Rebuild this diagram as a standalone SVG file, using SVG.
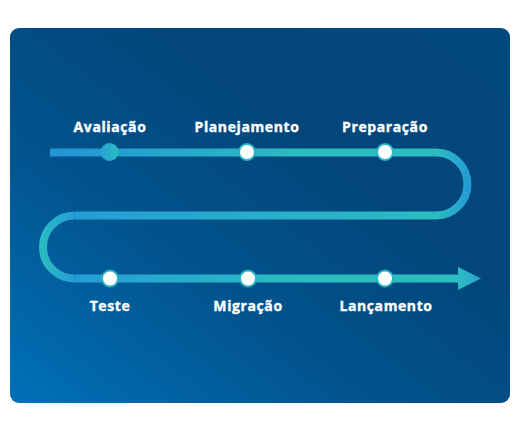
<svg xmlns="http://www.w3.org/2000/svg" width="520" height="431" viewBox="0 0 520 431">
<defs>
<linearGradient id="bg" x1="0" y1="1" x2="1" y2="0">
<stop offset="0" stop-color="#0071b8"/>
<stop offset="0.35" stop-color="#02548e"/>
<stop offset="0.65" stop-color="#02467a"/>
<stop offset="1" stop-color="#03487c"/>
</linearGradient>
<linearGradient id="lineTop" gradientUnits="userSpaceOnUse" x1="50" y1="0" x2="300" y2="0">
<stop offset="0" stop-color="#2195d6"/>
<stop offset="1" stop-color="#2bbcc1"/>
</linearGradient>
<linearGradient id="lineMid" gradientUnits="userSpaceOnUse" x1="436" y1="0" x2="74" y2="0">
<stop offset="0" stop-color="#2bbcc1"/>
<stop offset="1" stop-color="#259dd6"/>
</linearGradient>
<linearGradient id="lineBot" gradientUnits="userSpaceOnUse" x1="74" y1="0" x2="300" y2="0">
<stop offset="0" stop-color="#259dd6"/>
<stop offset="1" stop-color="#2bbcc1"/>
</linearGradient>
<linearGradient id="arcR" gradientUnits="userSpaceOnUse" x1="436" y1="0" x2="472" y2="0">
<stop offset="0" stop-color="#2bbcc1"/>
<stop offset="1" stop-color="#2499d6"/>
</linearGradient>
<linearGradient id="arcL" gradientUnits="userSpaceOnUse" x1="39" y1="0" x2="75" y2="0">
<stop offset="0" stop-color="#2bbcc1"/>
<stop offset="1" stop-color="#259dd6"/>
</linearGradient>
<linearGradient id="arrowG" x1="0" y1="0" x2="1" y2="0">
<stop offset="0" stop-color="#2bbcc1"/>
<stop offset="1" stop-color="#28a6d0"/>
</linearGradient>
<linearGradient id="nodeG" x1="0" y1="0" x2="1" y2="0">
<stop offset="0" stop-color="#27a2d2"/>
<stop offset="1" stop-color="#2bbcc1"/>
</linearGradient>
<style>
.lbl{font-family:"Open Sans","DejaVu Sans",sans-serif;font-weight:700;font-size:14px;letter-spacing:0.6px;fill:#ffffff;stroke:#ffffff;stroke-width:0.35px;text-anchor:middle}
.seg{fill:none;stroke-width:8}
.dot{fill:#ffffff;stroke:#2bb3c6;stroke-width:2}
</style>
</defs>
<rect x="10" y="28" width="500" height="375" rx="9" fill="url(#bg)"/>
<g id="connectors">
<path class="seg" stroke="url(#lineTop)" d="M50 152.5 H436"/>
<path class="seg" stroke="url(#arcR)" d="M436 152.5 A31.5 31.5 0 0 1 436 215.5"/>
<path class="seg" stroke="url(#lineMid)" d="M436 215.5 H74.5"/>
<path class="seg" stroke="url(#arcL)" d="M74.5 215.5 A31.5 31.5 0 0 0 74.5 278.5"/>
<path class="seg" stroke="url(#lineBot)" d="M74.5 278.5 H459"/>
<polygon points="458,267 481,278.5 458,290" fill="url(#arrowG)"/>
</g>
<g id="node-avaliacao">
<circle cx="109.5" cy="152" r="9" fill="url(#nodeG)"/>
<text class="lbl" x="110" y="131.5">Avaliação</text>
</g>
<g id="node-planejamento">
<circle class="dot" cx="247" cy="152" r="8"/>
<text class="lbl" x="247" y="131.5">Planejamento</text>
</g>
<g id="node-preparacao">
<circle class="dot" cx="385" cy="152" r="8"/>
<text class="lbl" x="385" y="131.5">Preparação</text>
</g>
<g id="node-teste">
<circle class="dot" cx="110" cy="278.5" r="8"/>
<text class="lbl" x="110" y="311">Teste</text>
</g>
<g id="node-migracao">
<circle class="dot" cx="248" cy="278.5" r="8"/>
<text class="lbl" x="248" y="311">Migração</text>
</g>
<g id="node-lancamento">
<circle class="dot" cx="385" cy="278.5" r="8"/>
<text class="lbl" x="386" y="311">Lançamento</text>
</g>
</svg>
